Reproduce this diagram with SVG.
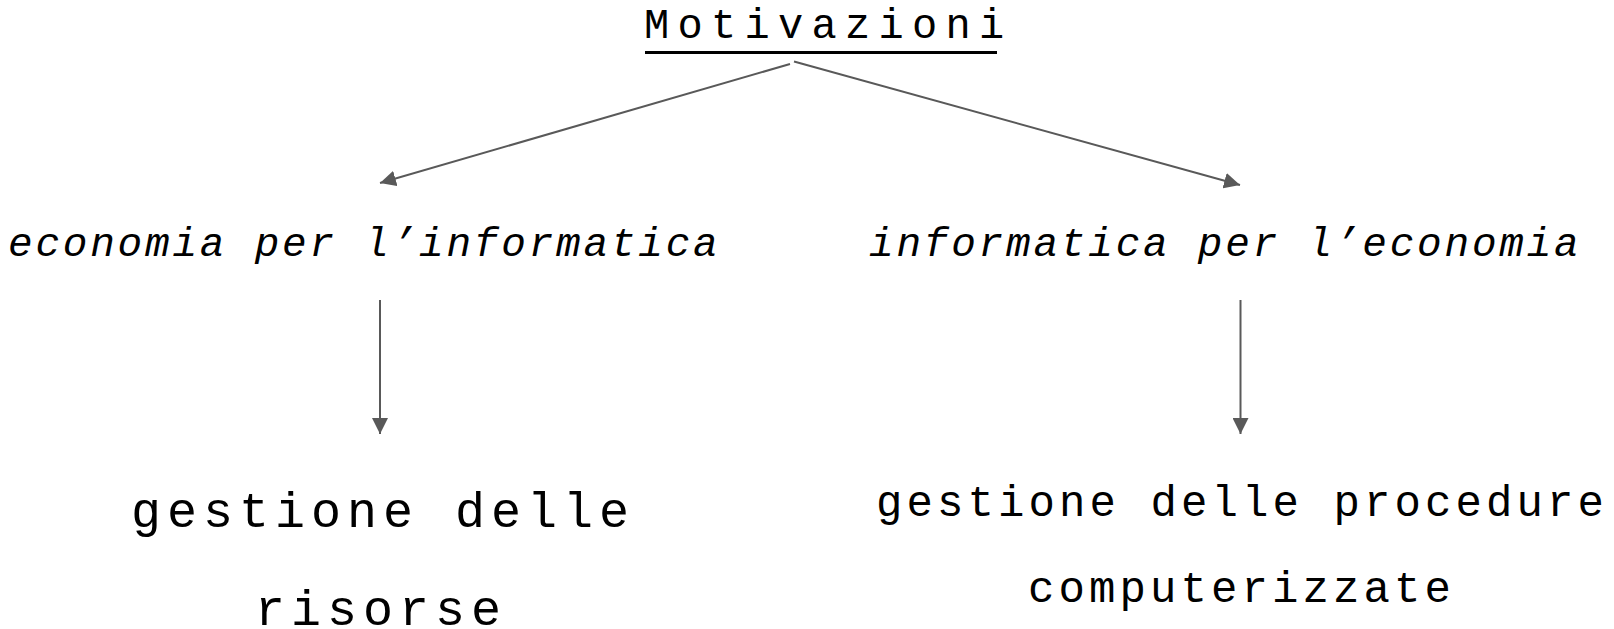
<svg xmlns="http://www.w3.org/2000/svg" width="1614" height="629" viewBox="0 0 1614 629">
<style>
text{font-family:"Courier New","Liberation Mono",monospace;fill:#000}
.it{font-style:italic;font-size:41px;letter-spacing:2.8px}
.big{font-size:50px;letter-spacing:6px}
.mid{font-size:44px;letter-spacing:4.1px}
.conn{stroke:#595959;stroke-width:2;fill:none}
</style>
<defs>
<marker id="ah" markerUnits="userSpaceOnUse" markerWidth="16" markerHeight="16" refX="16" refY="8" orient="auto" viewBox="0 0 16 16">
<path d="M0,0 L16,8 L0,16 z" fill="#595959"/>
</marker>
</defs>
<rect width="1614" height="629" fill="#fff"/>
<g id="connectors">
<line class="conn" x1="790" y1="64" x2="380" y2="183" marker-end="url(#ah)"/>
<line class="conn" x1="794" y1="61.5" x2="1240" y2="185" marker-end="url(#ah)"/>
<line class="conn" x1="380" y1="300" x2="380" y2="434" marker-end="url(#ah)"/>
<line class="conn" x1="1240.5" y1="300" x2="1240.5" y2="434" marker-end="url(#ah)"/>
</g>
<g id="motivazioni">
<text x="644" y="38" style="font-size:42px;letter-spacing:8.3px">Motivazioni</text>
<rect x="645" y="51" width="352" height="3" fill="#000"/>
</g>
<g id="economia-per-informatica">
<text class="it" x="8" y="256">economia per l’informatica</text>
</g>
<g id="informatica-per-economia">
<text class="it" x="869" y="256">informatica per l’economia</text>
</g>
<g id="gestione-risorse">
<text class="big" x="131" y="527">gestione delle</text>
<text class="big" x="255" y="625">risorse</text>
</g>
<g id="gestione-procedure">
<text class="mid" x="876" y="516">gestione delle procedure</text>
<text class="mid" x="1028" y="602">computerizzate</text>
</g>
</svg>
